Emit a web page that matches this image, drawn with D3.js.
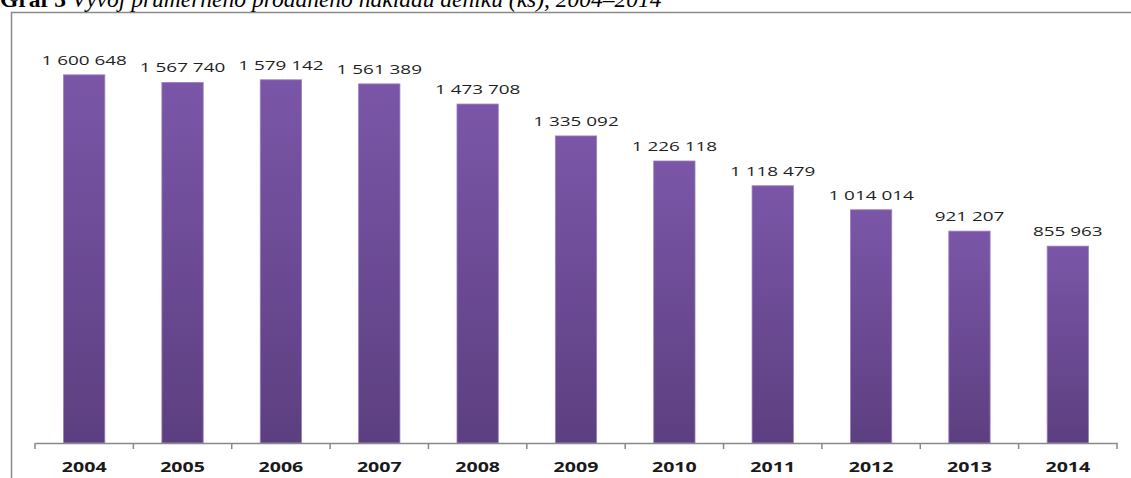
<!DOCTYPE html>
<html>
<head>
<meta charset="utf-8">
<style>
    body { margin: 0; background: #fff; }
    svg { display: block; }
    .x .domain { stroke: #888; stroke-width: 1.5; }
</style>
</head>
<body>
<svg width="1131" height="478"></svg>
<script src="https://d3js.org/d3.v7.min.js"></script>
<script>
    // values
    let years = ["2004", "2005", "2006", "2007", "2008", "2009", "2010", "2011", "2012", "2013", "2014"];
    let sold = [1600648, 1567740, 1579142, 1561389, 1473708, 1335092, 1226118, 1118479, 1014014, 921207, 855963];
    let labels = ["1 600 648", "1 567 740", "1 579 142", "1 561 389", "1 473 708", "1 335 092",
                  "1 226 118", "1 118 479", "1 014 014", "921 207", "855 963"];

    let data = years.map((y, i) => ({ year: y, value: sold[i], label: labels[i] }));

    let svg = d3.select("svg");

    let margin = { top: 29, right: 14, bottom: 35, left: 35 };
    let width = 1131, height = 478;
    let stretch = 1.4; // the source image is widened horizontally

    // frame around the chart
    svg.append("path")
        .attr("d", "M11.5,478 L11.5,12.5 L1131,12.5")
        .style("fill", "none")
        .style("stroke", "#8a8a8a")
        .style("stroke-width", 1.5);

    // caption, cut at the top like in the source
    let title = svg.append("text")
        .attr("x", 0)
        .attr("y", 7)
        .style("font-family", "'Liberation Serif', serif")
        .style("font-size", "23.5px")
        .style("fill", "#000");
    title.append("tspan").style("font-weight", "bold").text("Graf 3 ");
    title.append("tspan").style("font-style", "italic").text("Vývoj průměrného prodaného nákladu deníku (ks), 2004–2014");

    let x = d3.scaleBand()
        .domain(years)
        .range([margin.left, width - margin.right])
        .paddingInner(0.58)
        .paddingOuter(0.29);

    let y = d3.scaleLinear()
        .domain([0, 1800000])
        .range([height - margin.bottom, margin.top]);

    let defs = svg.append("defs");
    let grad = defs.append("linearGradient")
        .attr("id", "barGrad")
        .attr("x1", 0).attr("y1", 0).attr("x2", 0).attr("y2", 1);
    grad.append("stop").attr("offset", "0%").attr("stop-color", "#7b56a8");
    grad.append("stop").attr("offset", "100%").attr("stop-color", "#5c3f80");

    svg.append("g")
        .selectAll("rect")
        .data(data)
        .join("rect")
        .attr("x", d => x(d.year))
        .attr("y", d => y(d.value))
        .attr("width", x.bandwidth())
        .attr("height", d => y(0) - y(d.value))
        .style("fill", "url(#barGrad)")
        .style("stroke", "#9a80bd")
        .style("stroke-width", 0.8);

    // value labels
    svg.append("g")
        .selectAll("text")
        .data(data)
        .join("text")
        .attr("transform", d => `translate(${x(d.year) + x.bandwidth() / 2},${y(d.value) - 10}) scale(${stretch},1)`)
        .style("text-anchor", "middle")
        .style("font-family", "'Open Sans', sans-serif")
        .style("font-size", "13.5px")
        .style("fill", "#1e1e1e")
        .text(d => d.label);

    // x axis with ticks between the categories
    let xAxis = svg.append("g")
        .attr("class", "x axis")
        .attr("transform", `translate(0,${height - margin.bottom})`)
        .call(d3.axisBottom(x).tickSize(0).tickFormat(""));

    xAxis.selectAll(".year")
        .data(years)
        .join("text")
        .attr("class", "year")
        .attr("transform", d => `translate(${x(d) + x.bandwidth() / 2},29) scale(${stretch},1)`)
        .style("text-anchor", "middle")
        .style("font-family", "'Open Sans', sans-serif")
        .style("font-size", "14px")
        .style("font-weight", "bold")
        .style("fill", "#1a1a1a")
        .text(d => d);

    let step = x.step();
    let edges = d3.range(years.length + 1).map(i => margin.left + i * step);
    xAxis.selectAll(".edge")
        .data(edges)
        .join("line")
        .attr("class", "edge")
        .attr("x1", d => d).attr("x2", d => d)
        .attr("y1", 0).attr("y2", 6)
        .style("stroke", "#888")
        .style("stroke-width", 1.5);
</script>
</body>
</html>
